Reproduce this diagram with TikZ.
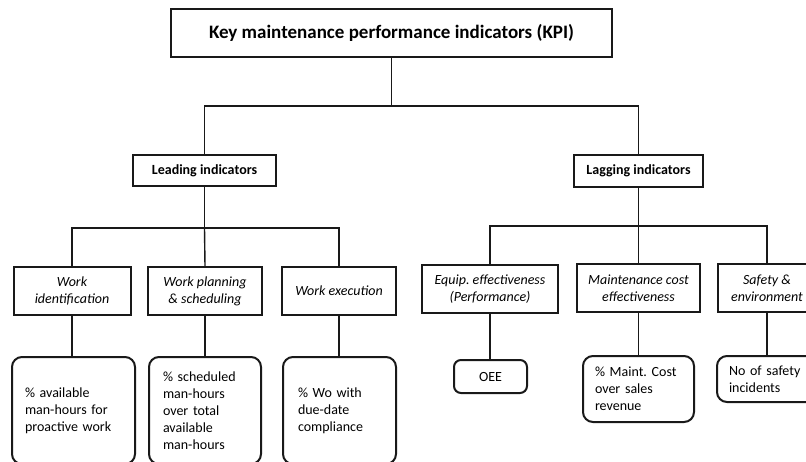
\documentclass[tikz,border=0pt]{standalone}
\usepackage{fontspec}
\setmainfont{Carlito}
\newcommand\nohyphs{\exhyphenpenalty=10000\relax\hyphenpenalty=10000\relax}
\begin{document}
\begin{tikzpicture}[x=1pt,y=-1pt,
  ink/.style={draw=black!90},
  box/.style={ink, line width=2pt, inner sep=0pt, align=center,
    font=\itshape\fontsize{14}{17}\selectfont},
  headbox/.style={box, font=\bfseries\fontsize{14}{17}\selectfont},
  leaf/.style={ink, line width=2pt, rounded corners=10pt, inner ysep=0pt,
    align=left, font=\fontsize{14}{17}\selectfont},
  conn/.style={ink, line width=1.4pt}]
\clip (0,0) rectangle (806,461);
\useasboundingbox (0,0) rectangle (806,461);

% top
\node[headbox, minimum width=441pt, minimum height=48pt,
  font=\bfseries\fontsize{19}{22}\selectfont] (kpi) at (391.5,33) {Key maintenance performance indicators (KPI)};

% level 1
\node[headbox, minimum width=143pt, minimum height=31pt] (lead) at (204.5,170.5) {Leading indicators};
\node[headbox, minimum width=129pt, minimum height=32pt] (lag) at (638.5,171) {Lagging indicators};

% level 2 left
\node[box, minimum width=117pt, minimum height=48pt] (wi) at (72,291) {Work\\identification};
\node[box, minimum width=114pt, minimum height=48pt] (wp) at (205,291) {Work planning\\\& scheduling};
\node[box, minimum width=114pt, minimum height=48pt] (we) at (339,291) {Work execution};

% level 2 right
\node[box, minimum width=136pt, minimum height=48pt] (eq) at (490,289) {Equip.\ effectiveness\\(Performance)};
\node[box, minimum width=123pt, minimum height=48pt] (mc) at (638.5,288) {Maintenance cost\\effectiveness};
\node[box, minimum width=98pt, minimum height=48pt] (se) at (767,288) {Safety \&\\environment};

% leaves left
\node[leaf, inner xsep=13pt, text width=97pt, minimum height=107pt] (l1) at (73.5,410.5) {\nohyphs\% available\\man-hours for\\proactive work};
\node[leaf, inner xsep=14pt, text width=84pt, minimum height=107pt] (l2) at (205,410.5) {\nohyphs\% scheduled\\man-hours\\over total\\available\\man-hours};
\node[leaf, inner xsep=15pt, text width=83pt, minimum height=107pt] (l3) at (339.5,410.5) {\nohyphs\% Wo with\\due-date\\compliance};

% leaves right
\node[leaf, rounded corners=7pt, inner xsep=0pt, align=center, minimum width=73pt, minimum height=33pt] (oee) at (490.5,376.5) {OEE};
\node[leaf, inner xsep=12pt, text width=87pt, minimum height=66pt] (mcl) at (638.5,389) {\nohyphs\% Maint.\ Cost\\over sales\\revenue};
\node[leaf, inner xsep=12pt, text width=76pt, minimum height=46pt] (sel) at (767,379) {\nohyphs No of safety\\incidents};

% junctions
\coordinate (jt) at (391.5,106);
\coordinate (jl) at (204.5,228);
\coordinate (jr) at (638.5,226);

% connectors
\draw[conn] (kpi.south) -- (jt);
\draw[conn] (lead.north) |- (jt) -| (lag.north);
\draw[conn] (lead.south) -- (jl);
\draw[conn] (wi.north) |- (jl) -| (we.north);
\draw[conn] (jl) -- (wp.north);
\draw[conn] (lag.south) -- (jr);
\draw[conn] (eq.north) |- (jr) -| (se.north);
\draw[conn] (jr) -- (mc.north);
\draw[conn] (wi.south) -- (wi.south |- l1.north);
\draw[conn] (wp.south) -- (l2.north);
\draw[conn] (we.south) -- (we.south |- l3.north);
\draw[conn] (eq.south) -- (eq.south |- oee.north);
\draw[conn] (mc.south) -- (mcl.north);
\draw[conn] (se.south) -- (sel.north);
\end{tikzpicture}
\end{document}
